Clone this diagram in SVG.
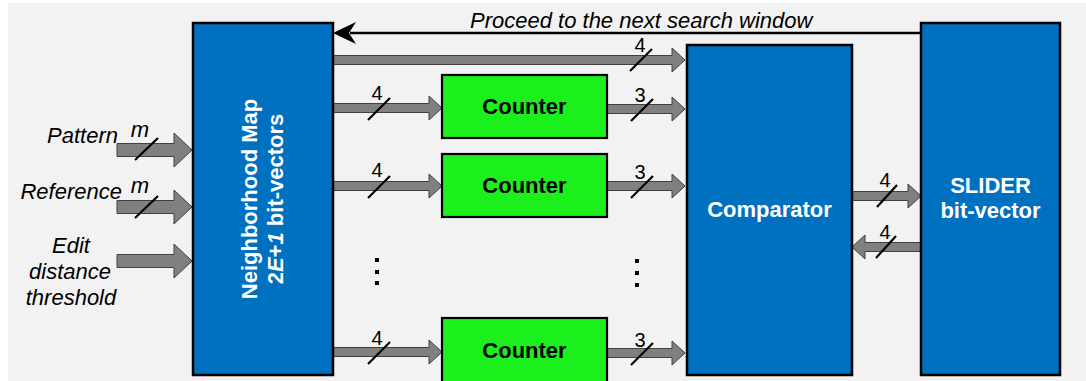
<svg xmlns="http://www.w3.org/2000/svg" width="1086" height="381" viewBox="0 0 1086 381">
<style>
.bus{fill:#808080;stroke:#404040;stroke-width:1}
.sl{stroke:#000;stroke-width:2.2;fill:none}
.num{font-family:"Liberation Sans",Arial,sans-serif;font-size:20px;fill:#000;text-anchor:middle}
.it{font-family:"Liberation Sans",Arial,sans-serif;font-size:22px;font-style:italic;fill:#000}
.blue{fill:#0070c0;stroke:#000;stroke-width:2.5}
.green{fill:#1cf01c;stroke:#000;stroke-width:2.2}
.wt{font-family:"Liberation Sans",Arial,sans-serif;font-size:22px;font-weight:bold;fill:#fff;text-anchor:middle}
.bt{font-family:"Liberation Sans",Arial,sans-serif;font-size:22px;font-weight:bold;fill:#000;text-anchor:middle}
</style>
<rect x="8" y="3" width="1078" height="378" fill="#f2f2f2"/>
<g id="connectors">
<polygon class="bus" points="117,143.5 174,143.5 174,133 192,150 174,167 174,156.5 117,156.5"/>
<polygon class="bus" points="117,200.5 174,200.5 174,190 192,207 174,224 174,213.5 117,213.5"/>
<polygon class="bus" points="117,254.5 174,254.5 174,244 192,261 174,278 174,267.5 117,267.5"/>
<polygon class="bus" points="333,55.5 672,55.5 672,48 685,60 672,72 672,64.5 333,64.5"/>
<polygon class="bus" points="333,103.5 429,103.5 429,96 442,108 429,120 429,112.5 333,112.5"/>
<polygon class="bus" points="607,104.5 672,104.5 672,97 685,109 672,121 672,113.5 607,113.5"/>
<polygon class="bus" points="333,181.5 429,181.5 429,174 442,186 429,198 429,190.5 333,190.5"/>
<polygon class="bus" points="607,181.5 672,181.5 672,174 685,186 672,198 672,190.5 607,190.5"/>
<polygon class="bus" points="333,347.5 429,347.5 429,340 442,352 429,364 429,356.5 333,356.5"/>
<polygon class="bus" points="607,348.5 672,348.5 672,341 685,353 672,365 672,357.5 607,357.5"/>
<polygon class="bus" points="852,191.5 908,191.5 908,184 921,196 908,208 908,200.5 852,200.5"/>
<polygon class="bus" points="921,242.5 865,242.5 865,235 852,247 865,259 865,251.5 921,251.5"/>
<line x1="921" y1="33" x2="350" y2="33" stroke="#000" stroke-width="2.5"/>
<polygon points="333,33 356,22 349,33 356,44" fill="#000"/>
<text class="it" x="470" y="28">Proceed to the next search window</text>
<line class="sl" x1="135" y1="160" x2="158" y2="138"/>
<text class="it" x="140" y="137" text-anchor="middle" font-size="19">m</text>
<line class="sl" x1="135" y1="218" x2="158" y2="196"/>
<text class="it" x="140" y="193" text-anchor="middle" font-size="19">m</text>
<line class="sl" x1="630" y1="71" x2="652" y2="49"/>
<text class="num" x="640" y="52">4</text>
<line class="sl" x1="368" y1="120" x2="390" y2="98"/>
<text class="num" x="377" y="100">4</text>
<line class="sl" x1="631" y1="121" x2="653" y2="99"/>
<text class="num" x="640" y="102">3</text>
<line class="sl" x1="368" y1="198" x2="390" y2="176"/>
<text class="num" x="377" y="177">4</text>
<line class="sl" x1="631" y1="198" x2="653" y2="176"/>
<text class="num" x="640" y="179">3</text>
<line class="sl" x1="368" y1="364" x2="390" y2="342"/>
<text class="num" x="377" y="345">4</text>
<line class="sl" x1="631" y1="365" x2="653" y2="343"/>
<text class="num" x="640" y="347">3</text>
<line class="sl" x1="877" y1="207" x2="897" y2="185"/>
<text class="num" x="885" y="187">4</text>
<line class="sl" x1="876" y1="258" x2="896" y2="236"/>
<text class="num" x="885" y="239">4</text>
</g>
<g id="labels">
<text class="it" x="118" y="143" text-anchor="end">Pattern</text>
<text class="it" x="122" y="199" text-anchor="end">Reference</text>
<text class="it" x="71" y="253" text-anchor="middle">Edit</text>
<text class="it" x="70" y="279" text-anchor="middle">distance</text>
<text class="it" x="71" y="305" text-anchor="middle">threshold</text>
<g id="dots" fill="#000">
<rect x="375" y="258" width="4" height="4"/>
<rect x="375" y="270" width="4" height="4"/>
<rect x="375" y="281" width="4" height="4"/>
<rect x="635" y="259" width="4" height="4"/>
<rect x="635" y="271" width="4" height="4"/>
<rect x="635" y="283" width="4" height="4"/>
</g>
</g>
<g id="neighborhood-map">
<rect class="blue" x="193" y="23" width="140" height="352"/>
<text class="wt" transform="translate(257,199) rotate(-90)">Neighborhood Map</text>
<text class="wt" transform="translate(283,199) rotate(-90)">2<tspan font-style="italic">E</tspan>+<tspan font-style="italic">1</tspan> bit-vectors</text>
</g>
<g id="counter1">
<rect class="green" x="442" y="75" width="165" height="63"/>
<text class="bt" x="524.5" y="114">Counter</text>
</g>
<g id="counter2">
<rect class="green" x="442" y="154" width="165" height="63"/>
<text class="bt" x="524.5" y="193">Counter</text>
</g>
<g id="counter3">
<rect class="green" x="442" y="318" width="165" height="66"/>
<text class="bt" x="524.5" y="358">Counter</text>
</g>
<g id="comparator">
<rect class="blue" x="687" y="45" width="165" height="330"/>
<text class="wt" x="769.5" y="217">Comparator</text>
</g>
<g id="slider">
<rect class="blue" x="921" y="23" width="139" height="352"/>
<text class="wt" x="990.5" y="193">SLIDER</text>
<text class="wt" x="990.5" y="218">bit-vector</text>
</g>
</svg>
